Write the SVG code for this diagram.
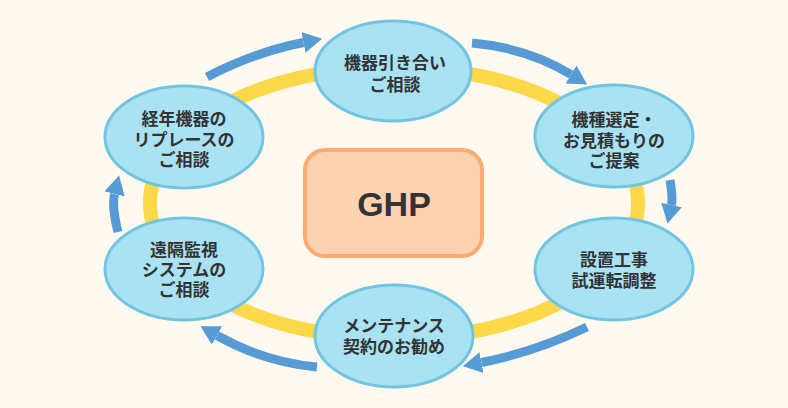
<svg xmlns="http://www.w3.org/2000/svg" width="788" height="408" viewBox="0 0 788 408">
<style>
.node ellipse{fill:#A9E2F3;stroke:#72C5E0;stroke-width:3}
.lbl{font-family:"Noto Sans CJK JP","Noto Sans",sans-serif;font-weight:700;font-size:17px;fill:#333333;text-anchor:middle}
.arr{fill:none;stroke:#579BD6;stroke-width:9;stroke-linecap:butt;marker-end:url(#head)}
</style>
<defs>
<marker id="head" markerUnits="userSpaceOnUse" markerWidth="20" markerHeight="21" refX="0" refY="10.5" orient="auto" viewBox="0 0 20 21">
<path d="M0,0 L19,10.5 L0,21 Z" fill="#579BD6"/>
</marker>
</defs>
<rect width="788" height="408" fill="#FFF9EF"/>
<ellipse cx="394" cy="203" rx="244" ry="136" fill="none" stroke="#FDD94A" stroke-width="14"/>
<g id="connectors">
<path class="arr" d="M207,77 Q255,52 303.5,42.5"/>
<path class="arr" d="M472,43 Q528,48 571,74.5"/>
<path class="arr" d="M670,180 Q673,198 671.5,205"/>
<path class="arr" d="M587,327 Q535,352 481.5,362.5"/>
<path class="arr" d="M317,367 Q264,362 217,335.5"/>
<path class="arr" d="M118,232 Q111.5,206 114.5,194"/>
</g>
<g id="ghp">
<rect x="305" y="150" width="177" height="106" rx="20" fill="#FDD2B1" stroke="#F9AB72" stroke-width="4"/>
<text x="394" y="216" font-family="'Liberation Sans',Arial,sans-serif" font-weight="700" font-size="34" fill="#333333" text-anchor="middle">GHP</text>
</g>
<g id="n1" class="node">
<ellipse cx="393" cy="71" rx="78" ry="50"/>
<text class="lbl"><tspan x="395" y="68.5">機器引き合い</tspan><tspan x="395" y="90.5">ご相談</tspan></text>
</g>
<g id="n2" class="node">
<ellipse cx="614" cy="136" rx="79" ry="51"/>
<text class="lbl"><tspan x="614" y="126">機種選定・</tspan><tspan x="614" y="147">お見積もりの</tspan><tspan x="614" y="167">ご提案</tspan></text>
</g>
<g id="n3" class="node">
<ellipse cx="614" cy="269" rx="79" ry="51"/>
<text class="lbl"><tspan x="614" y="266">設置工事</tspan><tspan x="614" y="287">試運転調整</tspan></text>
</g>
<g id="n4" class="node">
<ellipse cx="394" cy="336" rx="79" ry="51"/>
<text class="lbl"><tspan x="394" y="332">メンテナンス</tspan><tspan x="394" y="353">契約のお勧め</tspan></text>
</g>
<g id="n5" class="node">
<ellipse cx="184" cy="269" rx="79" ry="51"/>
<text class="lbl"><tspan x="184" y="256">遠隔監視</tspan><tspan x="184" y="276">システムの</tspan><tspan x="184" y="296">ご相談</tspan></text>
</g>
<g id="n6" class="node">
<ellipse cx="184" cy="137" rx="79" ry="51"/>
<text class="lbl"><tspan x="184" y="125">経年機器の</tspan><tspan x="184" y="146">リプレースの</tspan><tspan x="184" y="166">ご相談</tspan></text>
</g>
</svg>
